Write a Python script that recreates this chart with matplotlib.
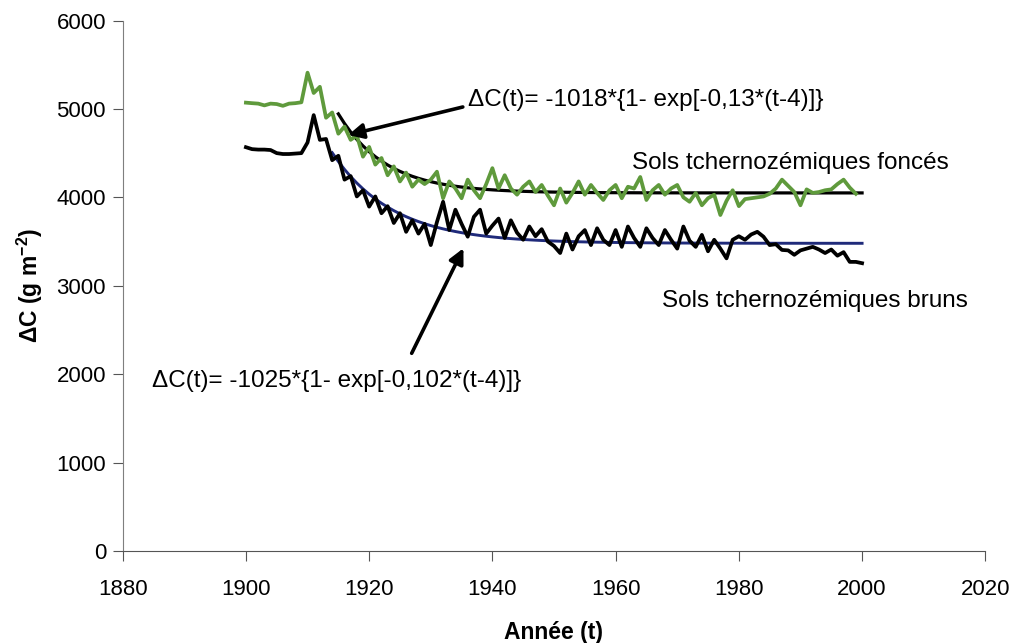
import numpy as np
import matplotlib
matplotlib.use("Agg")
from matplotlib import pyplot as plt

plt.rcParams['font.family'] = ['Liberation Sans', 'DejaVu Sans']
plt.rcParams['mathtext.fontset'] = 'custom'
plt.rcParams['mathtext.rm'] = 'Liberation Sans'
plt.rcParams['mathtext.bf'] = 'Liberation Sans:bold'

# annual carbon stock, dark chernozem soils (1900-1999)
YEARS_FONCES = list(range(1900, 2000))
C_FONCES = [5071, 5065, 5060, 5040, 5060, 5055, 5035, 5060, 5065, 5075,
            5410, 5180, 5250, 4900, 4960, 4720, 4800, 4650, 4700, 4460,
            4570, 4370, 4445, 4250, 4350, 4180, 4280, 4120, 4200, 4150,
            4200, 4290, 3990, 4180, 4100, 3990, 4200, 4080, 3990, 4150,
            4330, 4100, 4250, 4100, 4030, 4120, 4180, 4060, 4140, 4020,
            3910, 4100, 3940, 4050, 4180, 4030, 4140, 4050, 3970, 4080,
            4140, 3990, 4120, 4100, 4230, 3970, 4080, 4140, 4030, 4100,
            4140, 4000, 3950, 4050, 3910, 3990, 4030, 3800, 3960, 4080,
            3900, 3980, 3990, 4000, 4010, 4040, 4100, 4200, 4130, 4060,
            3910, 4090, 4050, 4060, 4080, 4090, 4150, 4200, 4110, 4040]

# annual carbon stock, brown chernozem soils (1900-2000)
YEARS_BRUNS = list(range(1900, 2001))
C_BRUNS = [4567, 4545, 4540, 4540, 4535, 4500, 4490, 4490, 4495, 4500,
           4620, 4930, 4650, 4660, 4420, 4470, 4200, 4240, 4010, 4080,
           3895, 4010, 3820, 3900, 3710, 3820, 3610, 3740, 3590, 3700,
           3460, 3720, 3950, 3630, 3860, 3700, 3555, 3780, 3860, 3590,
           3680, 3760, 3540, 3740, 3600, 3520, 3670, 3560, 3640, 3500,
           3450, 3370, 3590, 3410, 3560, 3630, 3460, 3650, 3520, 3460,
           3630, 3440, 3670, 3540, 3440, 3650, 3540, 3460, 3630, 3520,
           3420, 3670, 3510, 3440, 3575, 3390, 3520, 3420, 3310, 3520,
           3560, 3520, 3580, 3610, 3555, 3460, 3470, 3405, 3400, 3350,
           3400, 3420, 3440, 3410, 3370, 3410, 3340, 3380, 3270, 3270,
           3255]

# exponential fits: dC(t) = A*{1 - exp[-k*(t-4)]}, t counted from 1910
T0 = 1910
FIT_FONCES = dict(base=5068, amp=-1018, k=0.13, start=1915)
FIT_BRUNS = dict(base=4505, amp=-1025, k=0.102, start=1914)

LABEL_FONCES = "ΔC(t)= -1018*{1- exp[-0,13*(t-4)]}"
LABEL_BRUNS = "ΔC(t)= -1025*{1- exp[-0,102*(t-4)]}"


def fit_curve(p):
    yrs = np.arange(p['start'], 2001)
    t = yrs - T0
    return yrs, p['base'] + p['amp'] * (1 - np.exp(-p['k'] * (t - 4)))


fig = plt.figure(figsize=(10.14, 6.43), dpi=100)
ax = fig.add_axes([0.121, 0.1431, 0.8507, 0.8250])

ax.plot(YEARS_FONCES, C_FONCES, color='#5f9a3c', lw=2.7, zorder=3)
ax.plot(YEARS_BRUNS, C_BRUNS, color='black', lw=2.7, zorder=3)

xf, yf = fit_curve(FIT_FONCES)
ax.plot(xf, yf, color='black', lw=2.3, zorder=2)
xb, yb = fit_curve(FIT_BRUNS)
ax.plot(xb, yb, color='#1f2a7a', lw=2.1, zorder=2)

ax.set_xlim(1880, 2020)
ax.set_ylim(0, 6000)
ax.set_xticks(np.arange(1880, 2021, 20))
ax.set_yticks(np.arange(0, 6001, 1000))

for side in ('top', 'right'):
    ax.spines[side].set_visible(False)
ax.spines['left'].set_color('#7f7f7f')
ax.spines['bottom'].set_color('#555555')
ax.tick_params(axis='y', direction='out', length=7, color='#555555',
               labelsize=16, pad=5)
ax.tick_params(axis='x', direction='out', length=7, color='#555555',
               labelsize=16, pad=13)

ax.set_xlabel('Année (t)', fontsize=16.5, fontweight='bold', labelpad=15)
ax.set_ylabel('ΔC (g m$^{\\mathbf{-2}}$)', fontsize=16.5, fontweight='bold',
              labelpad=8)

arrow = dict(arrowstyle='-|>,head_width=0.45,head_length=0.9',
             color='black', lw=2.6, shrinkA=0, shrinkB=0)
ax.annotate('', xy=(1916.6, 4705), xytext=(1935.2, 5022), arrowprops=arrow)
ax.annotate('', xy=(1935.3, 3424), xytext=(1926.9, 2236), arrowprops=arrow)

ax.text(1936.0, 5101, LABEL_FONCES, fontsize=17.5, va='center', ha='left')
ax.text(1884.8, 1923, LABEL_BRUNS, fontsize=17.5, va='center', ha='left')
ax.text(1962.7, 4388, 'Sols tchernozémiques foncés', fontsize=17.5,
        va='center', ha='left')
ax.text(1967.5, 2828, 'Sols tchernozémiques bruns', fontsize=17.5,
        va='center', ha='left')

fig.savefig('out.png', dpi=100)
